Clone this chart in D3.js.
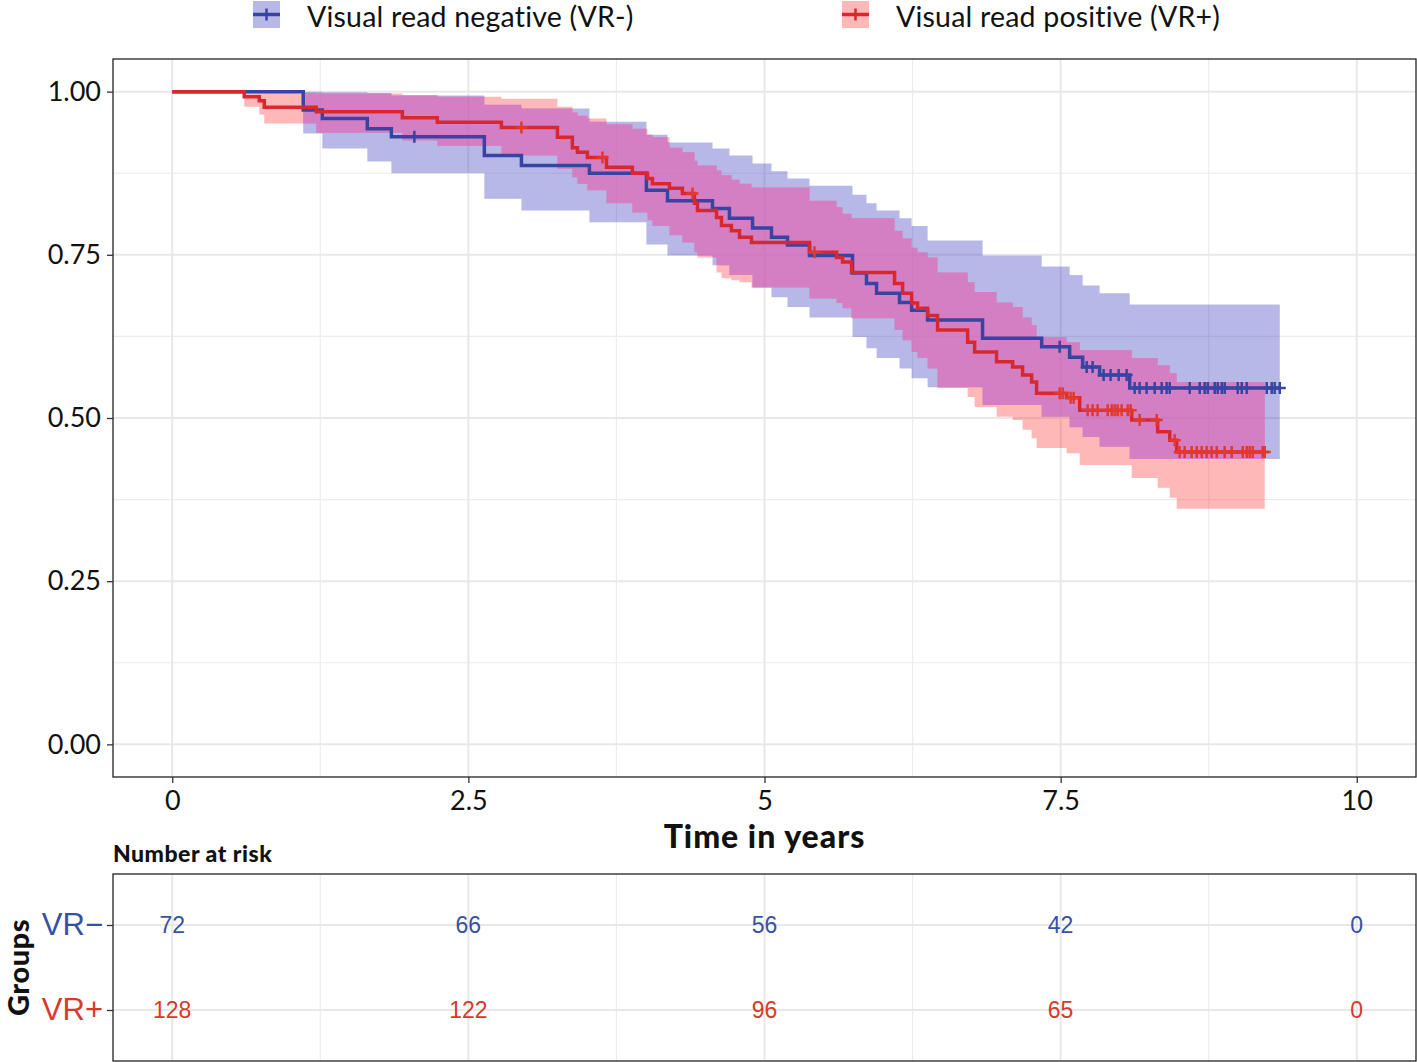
<!DOCTYPE html>
<html>
<head>
<meta charset="utf-8">
<script src="https://cdn.jsdelivr.net/npm/d3@7"></script>
<style>
  body { margin: 0; background: #fff; }
  svg { display: block; }
</style>
</head>
<body>
<div class="chart"></div>
<script>
const w = 1417;
const h = 1062;

// VR- group: event times (years), KM estimate and 95% CI after each event
const negTime = [1.106, 1.267, 1.647, 1.850, 2.635, 2.948, 3.522, 4.003, 4.181, 4.561, 4.704, 4.899, 5.059, 5.194, 5.380, 5.743, 5.861, 5.946, 6.140, 6.242, 6.377, 6.841, 7.340, 7.576, 7.686, 7.829, 8.083];
const negSurv = [0.972, 0.959, 0.943, 0.931, 0.902, 0.887, 0.875, 0.849, 0.833, 0.821, 0.806, 0.791, 0.777, 0.765, 0.749, 0.722, 0.706, 0.691, 0.677, 0.665, 0.650, 0.622, 0.609, 0.593, 0.578, 0.566, 0.546];
const negLower = [0.936, 0.913, 0.893, 0.875, 0.836, 0.818, 0.800, 0.766, 0.749, 0.734, 0.719, 0.700, 0.685, 0.670, 0.654, 0.624, 0.607, 0.592, 0.576, 0.561, 0.547, 0.520, 0.502, 0.486, 0.471, 0.456, 0.437];
const negUpper = [1.0, 0.999, 0.998, 0.994, 0.980, 0.974, 0.954, 0.934, 0.922, 0.913, 0.902, 0.890, 0.878, 0.867, 0.856, 0.842, 0.829, 0.818, 0.806, 0.794, 0.772, 0.749, 0.732, 0.719, 0.703, 0.691, 0.674];
const negCensor = [2.044, 7.492, 7.720, 7.770, 7.863, 7.922, 7.990, 8.057, 8.125, 8.167, 8.226, 8.294, 8.353, 8.395, 8.421, 8.590, 8.674, 8.716, 8.742, 8.801, 8.826, 8.860, 8.885, 8.995, 9.029, 9.071, 9.240, 9.282, 9.307, 9.350];
const negEnd = 9.35;

// VR+ group
const posTime = [0.608, 0.735, 0.777, 1.216, 1.943, 2.238, 2.779, 3.252, 3.378, 3.421, 3.505, 3.666, 3.885, 4.012, 4.054, 4.198, 4.307, 4.409, 4.434, 4.595, 4.637, 4.721, 4.789, 4.890, 5.380, 5.608, 5.659, 5.735, 6.098, 6.166, 6.242, 6.292, 6.377, 6.461, 6.715, 6.774, 6.959, 7.095, 7.179, 7.255, 7.297, 7.551, 7.661, 8.100, 8.319, 8.421, 8.480];
const posSurv = [0.992, 0.986, 0.976, 0.969, 0.960, 0.953, 0.945, 0.930, 0.914, 0.907, 0.899, 0.884, 0.875, 0.867, 0.859, 0.852, 0.844, 0.829, 0.818, 0.807, 0.795, 0.787, 0.777, 0.769, 0.754, 0.746, 0.739, 0.723, 0.706, 0.691, 0.676, 0.668, 0.657, 0.635, 0.616, 0.601, 0.586, 0.578, 0.566, 0.555, 0.538, 0.531, 0.512, 0.497, 0.479, 0.466, 0.448];
const posLower = [0.977, 0.965, 0.951, 0.937, 0.925, 0.917, 0.902, 0.882, 0.869, 0.859, 0.849, 0.829, 0.815, 0.803, 0.794, 0.780, 0.769, 0.754, 0.746, 0.723, 0.714, 0.711, 0.708, 0.700, 0.683, 0.676, 0.668, 0.653, 0.635, 0.619, 0.601, 0.592, 0.576, 0.546, 0.532, 0.517, 0.502, 0.497, 0.482, 0.469, 0.454, 0.446, 0.428, 0.408, 0.393, 0.378, 0.361];
const posUpper = [1.0, 1.0, 0.998, 0.997, 0.995, 0.992, 0.989, 0.977, 0.968, 0.963, 0.959, 0.950, 0.943, 0.934, 0.930, 0.914, 0.907, 0.894, 0.887, 0.879, 0.872, 0.865, 0.859, 0.853, 0.833, 0.823, 0.813, 0.806, 0.787, 0.775, 0.761, 0.754, 0.746, 0.723, 0.708, 0.693, 0.677, 0.670, 0.654, 0.642, 0.624, 0.616, 0.604, 0.592, 0.581, 0.569, 0.555];
const posCensor = [2.948, 3.632, 4.392, 5.422, 7.492, 7.517, 7.584, 7.610, 7.728, 7.770, 7.812, 7.897, 7.931, 7.956, 7.981, 8.015, 8.066, 8.091, 8.167, 8.311, 8.463, 8.505, 8.547, 8.606, 8.649, 8.691, 8.733, 8.775, 8.818, 8.885, 8.944, 9.037, 9.071, 9.096, 9.122, 9.206, 9.223];
const posEnd = 9.223;

// number at risk table
const riskTimes = [0, 2.5, 5, 7.5, 10];
const riskNeg = [72, 66, 56, 42, 0];
const riskPos = [128, 122, 96, 65, 0];
const groupLabels = ['VR\u2212', 'VR+'];
const legendLabels = ['Visual read negative (VR-)', 'Visual read positive (VR+)'];

const xTicks = [0, 2.5, 5, 7.5, 10];
const xMinor = [1.25, 3.75, 6.25, 8.75];
const yTicks = [0, 0.25, 0.5, 0.75, 1];
const yMinor = [0.125, 0.375, 0.625, 0.875];

const blueLine = '#3844a2';
const redLine = '#d8282f';
const blueFill = 'rgb(52,52,189)';
const redFill = 'rgb(255,52,52)';
const fillAlpha = 0.35;
const overlapFill = 'rgb(215,116,223)';
const blueText = '#3651a3';
const redText = '#d9392b';

const svg = d3.select('.chart').append('svg').attr('width', w).attr('height', h);

// panels
const pLeft = 113, pRight = 1416, pTop = 59, pBottom = 777;
const rTop = 874, rBottom = 1061;

const xScale = d3.scaleLinear().domain([-0.5, 10.5]).range([pLeft, pRight]);
const yScale = d3.scaleLinear().domain([-0.05, 1.05]).range([pBottom, pTop]);

// grid
const grid = svg.append('g');
xMinor.forEach(v => grid.append('line').attr('x1', xScale(v)).attr('x2', xScale(v)).attr('y1', pTop).attr('y2', pBottom).attr('stroke', '#ececec').attr('stroke-width', 1.2));
yMinor.forEach(v => grid.append('line').attr('y1', yScale(v)).attr('y2', yScale(v)).attr('x1', pLeft).attr('x2', pRight).attr('stroke', '#ececec').attr('stroke-width', 1.2));
xTicks.forEach(v => grid.append('line').attr('x1', xScale(v)).attr('x2', xScale(v)).attr('y1', pTop).attr('y2', pBottom).attr('stroke', '#e8e8e8').attr('stroke-width', 2));
yTicks.forEach(v => grid.append('line').attr('y1', yScale(v)).attr('y2', yScale(v)).attr('x1', pLeft).attr('x2', pRight).attr('stroke', '#e8e8e8').attr('stroke-width', 2));

function steps(times, surv, lower, upper, end) {
  const pts = [{ t: 0, s: 1, lo: 1, hi: 1 }];
  times.forEach((t, i) => pts.push({ t: t, s: surv[i], lo: lower[i], hi: upper[i] }));
  const last = pts[pts.length - 1];
  pts.push({ t: end, s: last.s, lo: last.lo, hi: last.hi });
  return pts;
}
function stepAt(times, vals, t) {
  const i = d3.bisectRight(times, t);
  return i === 0 ? 1 : vals[i - 1];
}

const negPts = steps(negTime, negSurv, negLower, negUpper, negEnd);
const posPts = steps(posTime, posSurv, posLower, posUpper, posEnd);

// overlap of the two confidence bands
const endMin = Math.min(negEnd, posEnd);
const allT = Array.from(new Set([0].concat(negTime, posTime))).filter(t => t < endMin).sort(d3.ascending);
allT.push(endMin);
const overlapPts = allT.map(t => {
  const lo = Math.max(stepAt(negTime, negLower, t), stepAt(posTime, posLower, t));
  const hi = Math.min(stepAt(negTime, negUpper, t), stepAt(posTime, posUpper, t));
  return { t: t, lo: lo, hi: Math.max(lo, hi) };
});

const line = d3.line().x(d => xScale(d.t)).y(d => yScale(d.s)).curve(d3.curveStepAfter);
const area = d3.area().x(d => xScale(d.t)).y0(d => yScale(d.lo)).y1(d => yScale(d.hi)).curve(d3.curveStepAfter);

const plot = svg.append('g');
plot.append('path').datum(negPts).attr('d', area).attr('fill', blueFill).attr('fill-opacity', fillAlpha);
plot.append('path').datum(posPts).attr('d', area).attr('fill', redFill).attr('fill-opacity', fillAlpha);
plot.append('path').datum(overlapPts).attr('d', area).attr('fill', overlapFill).attr('fill-opacity', 0.5);

plot.append('path').datum(negPts).attr('d', line).attr('fill', 'none').attr('stroke', blueLine).attr('stroke-width', 3.5);
plot.append('path').datum(posPts).attr('d', line).attr('fill', 'none').attr('stroke', redLine).attr('stroke-width', 3.5);

const cross = 'M-6,0H6M0,-6V6';
plot.selectAll('.cneg').data(negCensor).enter().append('path')
  .attr('d', cross)
  .attr('transform', d => `translate(${xScale(d)},${yScale(stepAt(negTime, negSurv, d))})`)
  .attr('stroke', blueLine).attr('stroke-width', 2.5).attr('fill', 'none');
plot.selectAll('.cpos').data(posCensor).enter().append('path')
  .attr('d', cross)
  .attr('transform', d => `translate(${xScale(d)},${yScale(stepAt(posTime, posSurv, d))})`)
  .attr('stroke', '#e2392c').attr('stroke-width', 2.5).attr('fill', 'none');

svg.append('rect').attr('x', pLeft).attr('y', pTop).attr('width', pRight - pLeft).attr('height', pBottom - pTop)
  .attr('fill', 'none').attr('stroke', '#222').attr('stroke-width', 1.3);

// axes
const xAxis = svg.append('g').attr('transform', `translate(0,${pBottom})`)
  .call(d3.axisBottom(xScale).tickValues(xTicks).tickFormat(d => String(d)).tickSize(6).tickPadding(5));
const yAxis = svg.append('g').attr('transform', `translate(${pLeft},0)`)
  .call(d3.axisLeft(yScale).tickValues(yTicks).tickFormat(d3.format('.2f')).tickSize(6).tickPadding(6));
[xAxis, yAxis].forEach(a => {
  a.select('.domain').remove();
  a.selectAll('.tick line').attr('stroke', '#333').attr('stroke-width', 1.3);
  a.selectAll('.tick text').attr('font-family', 'Lato, sans-serif').attr('font-size', 27).attr('fill', '#111');
});
xAxis.selectAll('.tick text').attr('dy', '0.82em');

svg.append('text').attr('x', xScale(5)).attr('y', 848).attr('text-anchor', 'middle')
  .attr('font-family', 'Lato, sans-serif').attr('font-weight', 900).attr('font-size', 32)
  .attr('letter-spacing', 1).attr('fill', '#111')
  .text('Time in years');

// legend
const legendX = [253, 842];
const legendColors = [[blueLine, blueFill], [redLine, redFill]];
legendX.forEach((lx, i) => {
  const g = svg.append('g').attr('transform', `translate(${lx},1)`);
  g.append('rect').attr('width', 27).attr('height', 27).attr('fill', legendColors[i][1]).attr('fill-opacity', fillAlpha);
  g.append('line').attr('x1', 0).attr('x2', 27).attr('y1', 13.5).attr('y2', 13.5).attr('stroke', legendColors[i][0]).attr('stroke-width', 3.5);
  g.append('path').attr('d', cross).attr('transform', 'translate(13.5,13.5)').attr('stroke', legendColors[i][0]).attr('stroke-width', 2.5);
  g.append('text').attr('x', 54).attr('y', 26).attr('font-family', 'Lato, sans-serif').attr('font-size', 28.5)
    .attr('letter-spacing', 0.2).attr('fill', '#111')
    .text(legendLabels[i]);
});

// risk table
svg.append('text').attr('x', pLeft).attr('y', 862).attr('font-family', 'Lato, sans-serif').attr('font-weight', 900)
  .attr('font-size', 23).attr('letter-spacing', 0.5).attr('fill', '#111').text('Number at risk');

const rY = d3.scalePoint().domain(groupLabels).range([rTop, rBottom]).padding(0.6);
const rgrid = svg.append('g');
xMinor.forEach(v => rgrid.append('line').attr('x1', xScale(v)).attr('x2', xScale(v)).attr('y1', rTop).attr('y2', rBottom).attr('stroke', '#ececec').attr('stroke-width', 1.2));
xTicks.forEach(v => rgrid.append('line').attr('x1', xScale(v)).attr('x2', xScale(v)).attr('y1', rTop).attr('y2', rBottom).attr('stroke', '#e8e8e8').attr('stroke-width', 2));
groupLabels.forEach(g => rgrid.append('line').attr('y1', rY(g)).attr('y2', rY(g)).attr('x1', pLeft).attr('x2', pRight).attr('stroke', '#e8e8e8').attr('stroke-width', 2));

const riskRows = [riskNeg, riskPos];
const textColors = [blueText, redText];
riskRows.forEach((row, i) => {
  svg.selectAll(null).data(row).enter().append('text')
    .attr('x', (d, j) => xScale(riskTimes[j]))
    .attr('y', rY(groupLabels[i]))
    .attr('dy', '0.36em')
    .attr('text-anchor', 'middle')
    .attr('font-family', '"Liberation Sans", Arial, sans-serif')
    .attr('font-size', 23)
    .attr('fill', textColors[i])
    .text(d => d);
});

svg.append('rect').attr('x', pLeft).attr('y', rTop).attr('width', pRight - pLeft).attr('height', rBottom - rTop)
  .attr('fill', 'none').attr('stroke', '#222').attr('stroke-width', 1.3);

const rAxis = svg.append('g').attr('transform', `translate(${pLeft},0)`)
  .call(d3.axisLeft(rY).tickSize(6).tickPadding(4));
rAxis.select('.domain').remove();
rAxis.selectAll('.tick line').attr('stroke', '#333').attr('stroke-width', 1.3);
rAxis.selectAll('.tick text')
  .attr('font-family', '"Liberation Sans", Arial, sans-serif')
  .attr('font-size', 31)
  .attr('fill', (d, i) => textColors[i]);

svg.append('text').attr('transform', `translate(29,${(rTop + rBottom) / 2}) rotate(-90)`)
  .attr('text-anchor', 'middle')
  .attr('font-family', 'Lato, sans-serif').attr('font-weight', 900).attr('font-size', 29)
  .attr('letter-spacing', 0.5).attr('fill', '#111')
  .text('Groups');
</script>
</body>
</html>
